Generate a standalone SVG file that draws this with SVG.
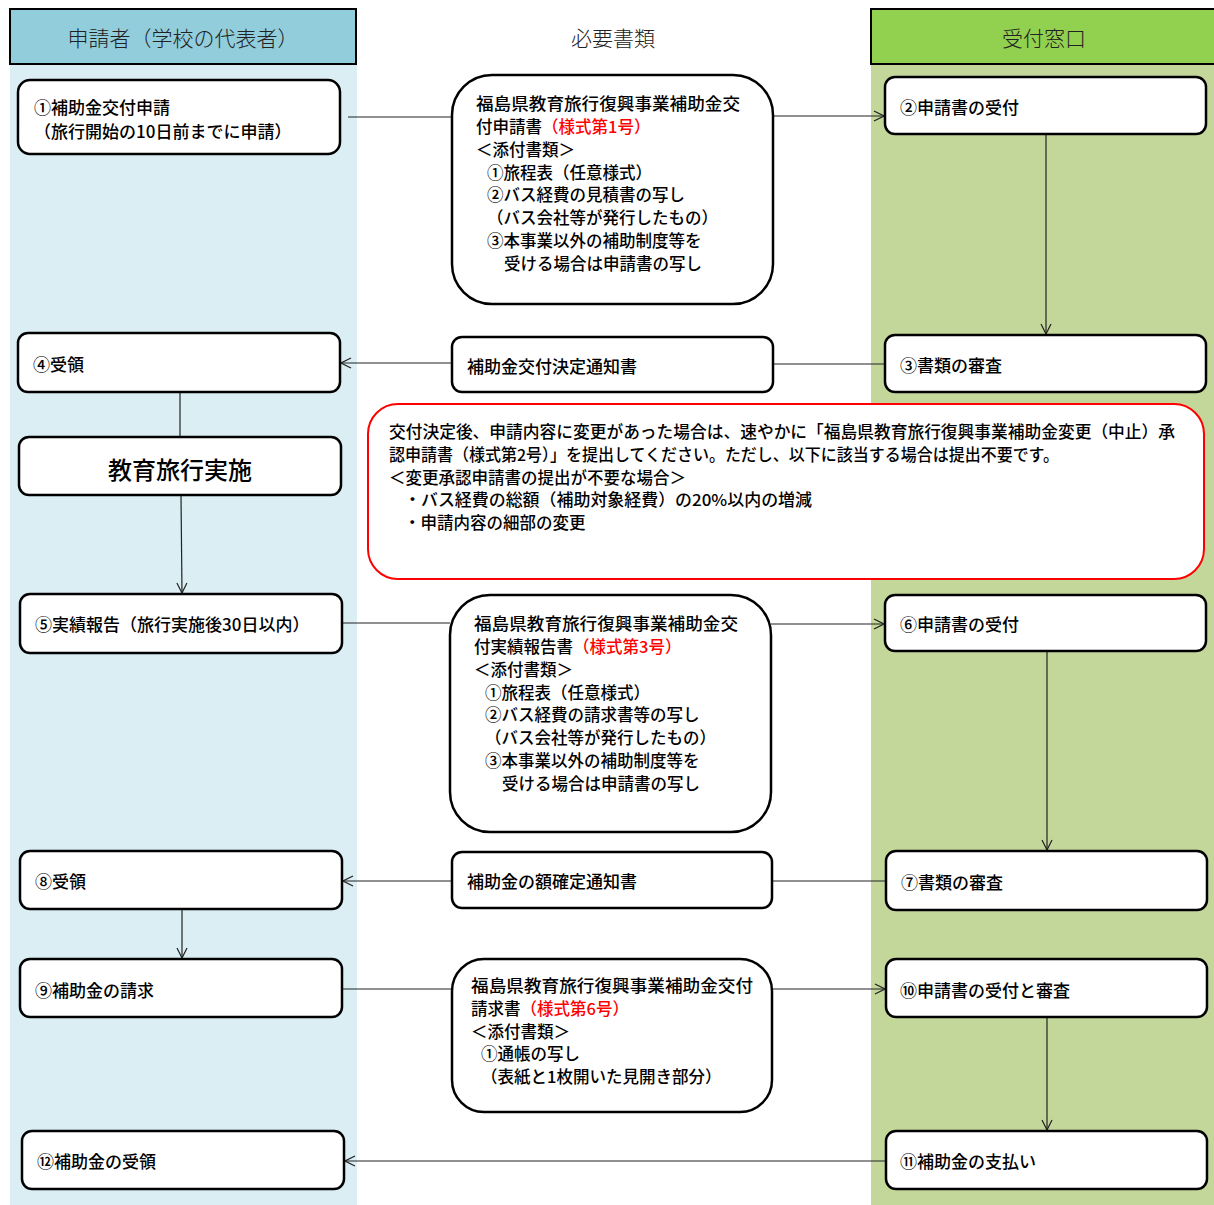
<svg xmlns="http://www.w3.org/2000/svg" width="1214" height="1205" viewBox="0 0 1214 1205">
<style>
text{font-family:"Noto Sans CJK JP","Noto Sans CJK SC",sans-serif;fill:#000;dominant-baseline:central}
.t{font-size:17px;font-weight:500}
.s{font-size:16.5px;font-weight:500}
.h{font-size:21px;font-weight:300;fill:#222}
.big{font-size:24px;font-weight:500}
.box{fill:#fff;stroke:#000;stroke-width:2.5}
.doc{fill:#fff;stroke:#000;stroke-width:2.5}
.red{fill:#f00}
.c{stroke:#222;stroke-width:1.2;fill:none}
.ca{stroke:#222;stroke-width:1.2;fill:none;marker-end:url(#arr)}
</style>
<defs>
<marker id="arr" viewBox="0 0 12 12" refX="11" refY="6" markerWidth="12" markerHeight="12" markerUnits="userSpaceOnUse" orient="auto">
<path d="M1,1 L11,6 L1,11" fill="none" stroke="#222" stroke-width="1.2"/>
</marker>
</defs>
<rect x="0" y="0" width="1214" height="1205" fill="#fff"/>
<g id="lanes">
<rect x="10" y="64" width="347" height="1141" fill="#DAEEF3"/>
<rect x="871" y="64" width="343" height="1141" fill="#C4D79B"/>
<rect x="10" y="9" width="346" height="55" fill="#92CDDC" stroke="#000" stroke-width="2"/>
<rect x="871" y="9" width="345" height="55" fill="#92D050" stroke="#000" stroke-width="2"/>
<text class="h" x="183" y="37" text-anchor="middle">申請者（学校の代表者）</text>
<text class="h" x="613" y="37" text-anchor="middle">必要書類</text>
<text class="h" x="1044" y="37" text-anchor="middle">受付窓口</text>
</g>
<g id="connectors">
<line class="c" x1="348" y1="117" x2="452" y2="117"/>
<line class="ca" x1="773" y1="116" x2="884" y2="116"/>
<line class="ca" x1="1046" y1="134" x2="1046" y2="334"/>
<line class="c" x1="885" y1="364" x2="773" y2="364"/>
<line class="ca" x1="452" y1="363" x2="341" y2="363"/>
<line class="c" x1="180" y1="392" x2="180" y2="437"/>
<line class="ca" x1="181" y1="495" x2="182" y2="593"/>
<line class="c" x1="342" y1="623" x2="450" y2="623"/>
<line class="ca" x1="771" y1="624" x2="884" y2="624"/>
<line class="ca" x1="1047" y1="651" x2="1047" y2="850"/>
<line class="c" x1="886" y1="881" x2="772" y2="881"/>
<line class="ca" x1="452" y1="881" x2="343" y2="881"/>
<line class="ca" x1="182" y1="909" x2="182" y2="958"/>
<line class="c" x1="342" y1="989" x2="452" y2="989"/>
<line class="ca" x1="772" y1="989" x2="885" y2="989"/>
<line class="ca" x1="1047" y1="1017" x2="1047" y2="1130"/>
<line class="ca" x1="886" y1="1161" x2="345" y2="1161"/>
</g>
<g id="n1">
<rect class="box" x="18" y="80" width="322" height="74" rx="12"/>
<text class="t" x="34" y="106">①補助金交付申請</text>
<text class="t" x="34" y="130">（旅行開始の10日前までに申請）</text>
</g>
<g id="d1">
<rect class="doc" x="452" y="75" width="321" height="229" rx="40"/>
<text class="s" x="476" y="103" textLength="264" lengthAdjust="spacingAndGlyphs">福島県教育旅行復興事業補助金交</text>
<text class="s" x="476" y="125.9">付申請書<tspan class="red">（様式第1号）</tspan></text>
<text class="s" x="476" y="148.7">＜添付書類＞</text>
<text class="s" x="487" y="171.6">①旅程表（任意様式）</text>
<text class="s" x="487" y="194.4">②バス経費の見積書の写し</text>
<text class="s" x="487" y="217.3">（バス会社等が発行したもの）</text>
<text class="s" x="487" y="240.1">③本事業以外の補助制度等を</text>
<text class="s" x="504" y="263">受ける場合は申請書の写し</text>
</g>
<g id="n2">
<rect class="box" x="885" y="77" width="321" height="57" rx="10"/>
<text class="t" x="900" y="106">②申請書の受付</text>
</g>
<g id="n3">
<rect class="box" x="885" y="335" width="321" height="57" rx="10"/>
<text class="t" x="900" y="364">③書類の審査</text>
</g>
<g id="d2">
<rect class="box" x="452" y="337" width="321" height="55" rx="10"/>
<text class="t" x="467" y="365">補助金交付決定通知書</text>
</g>
<g id="n4">
<rect class="box" x="18" y="333" width="322" height="59" rx="10"/>
<text class="t" x="33" y="363">④受領</text>
</g>
<g id="trip">
<rect class="box" x="19" y="437" width="322" height="58" rx="10"/>
<text class="big" x="180" y="468" text-anchor="middle">教育旅行実施</text>
</g>
<g id="note">
<rect x="368" y="404" width="836" height="175" rx="30" fill="#fff" stroke="#f00" stroke-width="2"/>
<text class="s" x="389" y="431" textLength="786" lengthAdjust="spacingAndGlyphs">交付決定後、申請内容に変更があった場合は、速やかに「福島県教育旅行復興事業補助金変更（中止）承</text>
<text class="s" x="389" y="453.8" textLength="670" lengthAdjust="spacingAndGlyphs">認申請書（様式第2号）」を提出してください。ただし、以下に該当する場合は提出不要です。</text>
<text class="s" x="389" y="476.6">＜変更承認申請書の提出が不要な場合＞</text>
<text class="s" x="404" y="499.4" textLength="408" lengthAdjust="spacingAndGlyphs">・バス経費の総額（補助対象経費）の20%以内の増減</text>
<text class="s" x="404" y="522.2">・申請内容の細部の変更</text>
</g>
<g id="n5">
<rect class="box" x="20" y="594" width="322" height="59" rx="10"/>
<text class="t" x="35" y="623">⑤実績報告（旅行実施後30日以内）</text>
</g>
<g id="d3">
<rect class="doc" x="450" y="595" width="321" height="237" rx="40"/>
<text class="s" x="474" y="623" textLength="264" lengthAdjust="spacingAndGlyphs">福島県教育旅行復興事業補助金交</text>
<text class="s" x="474" y="645.9">付実績報告書<tspan class="red">（様式第3号）</tspan></text>
<text class="s" x="474" y="668.7">＜添付書類＞</text>
<text class="s" x="485" y="691.6">①旅程表（任意様式）</text>
<text class="s" x="485" y="714.4">②バス経費の請求書等の写し</text>
<text class="s" x="485" y="737.3">（バス会社等が発行したもの）</text>
<text class="s" x="485" y="760.1">③本事業以外の補助制度等を</text>
<text class="s" x="502" y="783">受ける場合は申請書の写し</text>
</g>
<g id="n6">
<rect class="box" x="885" y="595" width="321" height="56" rx="10"/>
<text class="t" x="900" y="623">⑥申請書の受付</text>
</g>
<g id="n7">
<rect class="box" x="886" y="851" width="321" height="59" rx="10"/>
<text class="t" x="901" y="881">⑦書類の審査</text>
</g>
<g id="d4">
<rect class="box" x="452" y="852" width="320" height="56" rx="10"/>
<text class="t" x="467" y="880">補助金の額確定通知書</text>
</g>
<g id="n8">
<rect class="box" x="20" y="851" width="322" height="58" rx="10"/>
<text class="t" x="35" y="880">⑧受領</text>
</g>
<g id="n9">
<rect class="box" x="20" y="959" width="322" height="58" rx="10"/>
<text class="t" x="35" y="989">⑨補助金の請求</text>
</g>
<g id="d5">
<rect class="doc" x="452" y="959" width="320" height="153" rx="32"/>
<text class="s" x="471" y="985" textLength="282" lengthAdjust="spacingAndGlyphs">福島県教育旅行復興事業補助金交付</text>
<text class="s" x="471" y="1007.8">請求書<tspan class="red">（様式第6号）</tspan></text>
<text class="s" x="471" y="1030.6">＜添付書類＞</text>
<text class="s" x="481" y="1053.4">①通帳の写し</text>
<text class="s" x="481" y="1076.2">（表紙と1枚開いた見開き部分）</text>
</g>
<g id="n10">
<rect class="box" x="886" y="959" width="321" height="58" rx="10"/>
<text class="t" x="900" y="989">⑩申請書の受付と審査</text>
</g>
<g id="n11">
<rect class="box" x="886" y="1131" width="321" height="58" rx="10"/>
<text class="t" x="900" y="1160">⑪補助金の支払い</text>
</g>
<g id="n12">
<rect class="box" x="22" y="1131" width="322" height="58" rx="10"/>
<text class="t" x="37" y="1160">⑫補助金の受領</text>
</g>
</svg>
